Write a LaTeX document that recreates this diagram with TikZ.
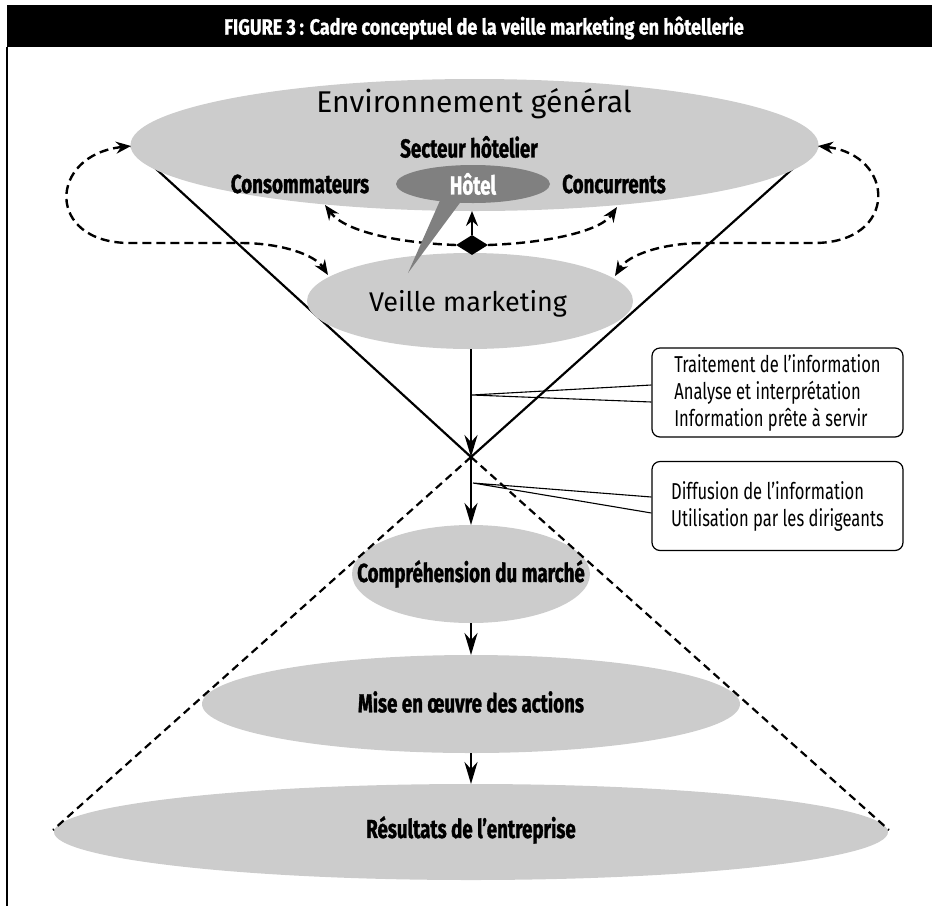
\documentclass[tikz,border=0pt]{standalone}
\usepackage{fontspec}
\setmainfont{Fira Sans}
\newfontfamily\condfont[FakeStretch=0.82, FakeBold=1]{Fira Sans}
\newfontfamily\narrowfont[FakeStretch=0.72]{Fira Sans}
\newfontfamily\heavyfont[FakeStretch=0.72, FakeBold=1.2]{Fira Sans}
\usetikzlibrary{shapes.geometric,arrows.meta,calc}
\definecolor{lgray}{HTML}{CCCCCC}
\definecolor{dgray}{HTML}{808080}
\tikzset{
  dtip/.tip={Stealth[length=15pt,width=12pt,inset=5pt]},
  btip/.tip={Stealth[length=22pt,width=13pt,inset=7pt]}
}
\begin{document}
\begin{tikzpicture}[x=1pt,y=-1pt,
  ell/.style={ellipse, fill=lgray, inner sep=0pt, outer sep=0pt},
  lbl/.style={font=\heavyfont\bfseries\fontsize{26}{30}\selectfont, inner sep=0pt},
  conn/.style={line width=2.4pt, -btip},
  dashconn/.style={line width=2.4pt, dash pattern=on 9pt off 5pt},
  cone/.style={line width=2.2pt},
  dcone/.style={line width=2.2pt, dash pattern=on 8pt off 5pt},
  infobox/.style={draw, line width=1.2pt, rounded corners=8pt, minimum width=251pt,
    minimum height=89pt, inner sep=0pt, align=left,
    font=\narrowfont\fontsize{23}{27}\selectfont},
  thin/.style={line width=1.1pt}
]
\useasboundingbox (0,0) rectangle (932,906);

% title bar and frame
\fill[black] (7,5) rectangle (932,47);
\node[font=\condfont\bfseries\fontsize{22}{26}\selectfont, text=white, inner sep=0pt] (title) at (484,28)
  {FIGURE 3\,: Cadre conceptuel de la veille marketing en hôtellerie};
\draw[line width=1.2pt] (7,47) -- (7,906);

% apex and cone lines
\coordinate (apex) at (471,457);
\coordinate (envL) at (131,146);
\coordinate (envR) at (818,146);
\draw[cone] (envL) -- (apex);
\draw[cone] (envR) -- (apex);

% environment ellipse
\node[ell, minimum width=688pt, minimum height=132pt] (env) at (474.5,145) {};
\node[inner sep=0pt, font=\fontsize{30}{34}\selectfont] (envt) at (474,104) {Environnement général};
\node[lbl] (sect) at (469,147) {Secteur hôtelier};
\node[lbl] (cons) at (300,184) {Consommateurs};
\node[lbl] (conc) at (614,184) {Concurrents};

% veille marketing
\node[ell, minimum width=326pt, minimum height=96pt] (veille) at (470,301) {};
\node[inner sep=0pt, font=\fontsize{27}{30}\selectfont] (veillet) at (468,304) {Veille marketing};

% diamond and small dashed arrows
\node[diamond, fill=black, minimum width=32pt, minimum height=20pt, inner sep=0pt] (dia) at (472,245) {};
\coordinate (consTip) at (325,205);
\coordinate (concTip) at (617,207);
\draw[dashconn, -dtip] (dia.west) .. controls (400,243) and (345,232) .. (consTip);
\draw[dashconn, -dtip] (dia.east) .. controls (545,243) and (600,232) .. (concTip);
\draw[line width=2.4pt, -dtip] (dia.north) -- (dia.north |- env.south);

% outer loops
\coordinate (vL) at (328,275);
\coordinate (vR) at (615,276);
\draw[dashconn, dtip-dtip] (envL) .. controls (48,155) and (45,243) .. (130,243) -- (240,243)
   .. controls (282,243) and (315,255) .. (vL);
\draw[dashconn, dtip-dtip] (envR) .. controls (896,155) and (899,243) .. (814,243) -- (704,243)
   .. controls (662,243) and (628,255) .. (vR);

% hotel with callout tail
\fill[dgray] (442,196) -- (465,196) -- (408,273) -- cycle;
\node[ellipse, fill=dgray, minimum width=154pt, minimum height=38pt, inner sep=0pt,
  font=\heavyfont\bfseries\fontsize{26}{30}\selectfont, text=white] (hotel) at (473,184) {Hôtel};

% lower ellipses
\node[ell, minimum width=238pt, minimum height=98pt] (comp) at (471,574) {};
\node[lbl] (compt) at (471,574) {Compréhension du marché};
\node[ell, minimum width=538pt, minimum height=98pt] (mise) at (471,704) {};
\node[lbl] (miset) at (471,702) {Mise en œuvre des actions};
\node[ell, minimum width=834pt, minimum height=96pt] (res) at (471,832) {};
\node[lbl] (rest) at (471,830) {Résultats de l’entreprise};

% dashed cone
\coordinate (resL) at (53,830);
\coordinate (resR) at (889,830);
\draw[dcone] (apex) -- (resL);
\draw[dcone] (apex) -- (resR);

% vertical arrows
\draw[conn] (veille.south -| apex) -- (apex);
\draw[conn] (apex) -- (apex |- comp.north);
\draw[conn] (comp.south) -- (mise.north);
\draw[conn] (mise.south) -- (res.north);

% info boxes
\node[infobox] (box1) at (777.5,392.5) {Traitement de l’information\\Analyse et interprétation\\Information prête à servir};
\node[infobox] (box2) at (777.5,506) {Diffusion de l’information\\Utilisation par les dirigeants};
\coordinate (p1) at (472,395);
\coordinate (p2) at (473,483);
\draw[thin] ($(box1.west)+(0,-7.5)$) -- (p1) -- ($(box1.west)+(0,9.5)$);
\draw[thin] ($(box2.west)+(0,-9)$) -- (p2) -- ($(box2.west)+(0,7)$);
\end{tikzpicture}
\end{document}
